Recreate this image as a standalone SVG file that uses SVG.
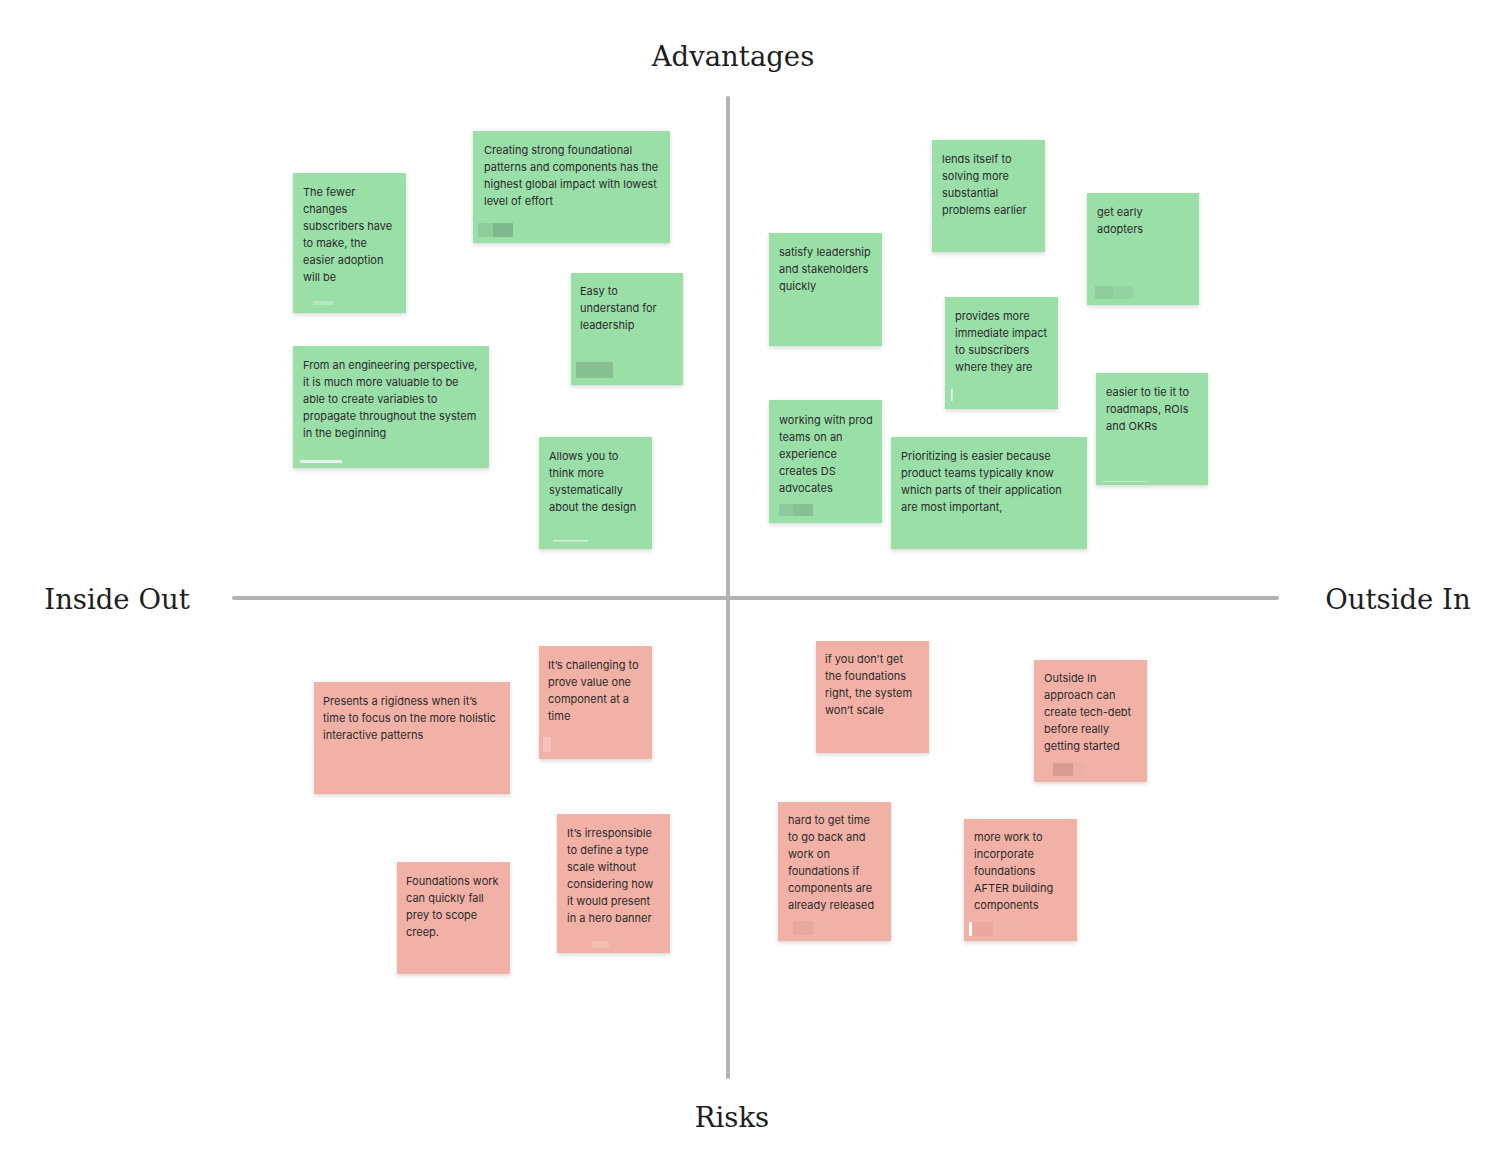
<svg xmlns="http://www.w3.org/2000/svg" width="1511" height="1174" viewBox="0 0 1511 1174">
<style>
.g{fill:#9adfa8}
.r{fill:#f2b1a6}
.t{font-family:Inter,"Noto Sans",sans-serif;font-size:11px;fill:#2b2b2b}
.h{font-family:"DejaVu Serif","Liberation Serif",serif;font-size:27.5px;fill:#1e1e1e}
.ax{stroke:#b3b3b3;stroke-width:4;stroke-linecap:round;fill:none}
</style>
<defs>
<filter id="sh" x="-10%" y="-10%" width="120%" height="130%">
<feDropShadow dx="0" dy="2" stdDeviation="2" flood-color="#000" flood-opacity="0.15"/>
</filter>
</defs>
<rect width="1511" height="1174" fill="#fff"/>
<g id="axes">
<line class="ax" x1="728" y1="98" x2="728" y2="1077"/>
<line class="ax" x1="234" y1="598" x2="1277" y2="598"/>
</g>
<g id="labels">
<text class="h" x="733" y="66" text-anchor="middle">Advantages</text>
<text class="h" x="732" y="1127" text-anchor="middle">Risks</text>
<text class="h" x="117" y="609" text-anchor="middle">Inside Out</text>
<text class="h" x="1398" y="609" text-anchor="middle">Outside In</text>
</g>
<g id="n1"><rect class="g" x="293" y="173" width="113" height="140" filter="url(#sh)"/><rect x="313" y="301" width="20" height="4" fill="#b5e8bf"/>
<text class="t"><tspan x="303" y="196">The fewer</tspan><tspan x="303" y="213">changes</tspan><tspan x="303" y="230">subscribers have</tspan><tspan x="303" y="247">to make, the</tspan><tspan x="303" y="264">easier adoption</tspan><tspan x="303" y="281">will be</tspan></text></g>
<g id="n2"><rect class="g" x="473" y="131" width="197" height="112" filter="url(#sh)"/><rect x="478" y="223" width="15" height="14" fill="#8ccf9a"/><rect x="493" y="223" width="20" height="14" fill="#80b88d"/>
<text class="t"><tspan x="484" y="154">Creating strong foundational</tspan><tspan x="484" y="171">patterns and components has the</tspan><tspan x="484" y="188">highest global impact with lowest</tspan><tspan x="484" y="205">level of effort</tspan></text></g>
<g id="n3"><rect class="g" x="571" y="273" width="112" height="112" filter="url(#sh)"/><rect x="576" y="362" width="37" height="16" fill="#86bf92"/>
<text class="t"><tspan x="580" y="295">Easy to</tspan><tspan x="580" y="312">understand for</tspan><tspan x="580" y="329">leadership</tspan></text></g>
<g id="n4"><rect class="g" x="293" y="346" width="196" height="122" filter="url(#sh)"/><rect x="300" y="460" width="42" height="3" fill="#e6f5e9"/>
<text class="t"><tspan x="303" y="369">From an engineering perspective,</tspan><tspan x="303" y="386">it is much more valuable to be</tspan><tspan x="303" y="403">able to create variables to</tspan><tspan x="303" y="420">propagate throughout the system</tspan><tspan x="303" y="437">in the beginning</tspan></text></g>
<g id="n5"><rect class="g" x="539" y="437" width="113" height="112" filter="url(#sh)"/><rect x="553" y="540" width="35" height="1.5" fill="#d8f2dd"/>
<text class="t"><tspan x="549" y="460">Allows you to</tspan><tspan x="549" y="477">think more</tspan><tspan x="549" y="494">systematically</tspan><tspan x="549" y="511">about the design</tspan></text></g>
<g id="n6"><rect class="g" x="769" y="233" width="113" height="113" filter="url(#sh)"/>
<text class="t"><tspan x="779" y="256">satisfy leadership</tspan><tspan x="779" y="273">and stakeholders</tspan><tspan x="779" y="290">quickly</tspan></text></g>
<g id="n7"><rect class="g" x="932" y="140" width="113" height="112" filter="url(#sh)"/>
<text class="t"><tspan x="942" y="163">lends itself to</tspan><tspan x="942" y="180">solving more</tspan><tspan x="942" y="197">substantial</tspan><tspan x="942" y="214">problems earlier</tspan></text></g>
<g id="n8"><rect class="g" x="1087" y="193" width="112" height="112" filter="url(#sh)"/><rect x="1095" y="286" width="18" height="13" fill="#8fcc9c"/><rect x="1113" y="286" width="20" height="13" fill="#94d4a2"/>
<text class="t"><tspan x="1097" y="216">get early</tspan><tspan x="1097" y="233">adopters</tspan></text></g>
<g id="n9"><rect class="g" x="945" y="297" width="113" height="112" filter="url(#sh)"/><rect x="951" y="389" width="1.5" height="12" fill="#fff"/>
<text class="t"><tspan x="955" y="320">provides more</tspan><tspan x="955" y="337">immediate impact</tspan><tspan x="955" y="354">to subscribers</tspan><tspan x="955" y="371">where they are</tspan></text></g>
<g id="n10"><rect class="g" x="769" y="400" width="113" height="123" filter="url(#sh)"/><rect x="779" y="504" width="14" height="12" fill="#8ecb9b"/><rect x="793" y="504" width="20" height="12" fill="#86c193"/>
<text class="t"><tspan x="779" y="424">working with prod</tspan><tspan x="779" y="441">teams on an</tspan><tspan x="779" y="458">experience</tspan><tspan x="779" y="475">creates DS</tspan><tspan x="779" y="492">advocates</tspan></text></g>
<g id="n11"><rect class="g" x="891" y="437" width="196" height="112" filter="url(#sh)"/>
<text class="t"><tspan x="901" y="460">Prioritizing is easier because</tspan><tspan x="901" y="477">product teams typically know</tspan><tspan x="901" y="494">which parts of their application</tspan><tspan x="901" y="511">are most important,</tspan></text></g>
<g id="n12"><rect class="g" x="1096" y="373" width="112" height="112" filter="url(#sh)"/><rect x="1103" y="481" width="45" height="1" fill="#c2ecca"/>
<text class="t"><tspan x="1106" y="396">easier to tie it to</tspan><tspan x="1106" y="413">roadmaps, ROIs</tspan><tspan x="1106" y="430">and OKRs</tspan></text></g>
<g id="n13"><rect class="r" x="314" y="682" width="196" height="112" filter="url(#sh)"/>
<text class="t"><tspan x="323" y="705">Presents a rigidness when it’s</tspan><tspan x="323" y="722">time to focus on the more holistic</tspan><tspan x="323" y="739">interactive patterns</tspan></text></g>
<g id="n14"><rect class="r" x="539" y="646" width="113" height="113" filter="url(#sh)"/><rect x="543" y="737" width="8" height="15" fill="#f5c2b9"/>
<text class="t"><tspan x="548" y="669">It’s challenging to</tspan><tspan x="548" y="686">prove value one</tspan><tspan x="548" y="703">component at a</tspan><tspan x="548" y="720">time</tspan></text></g>
<g id="n15"><rect class="r" x="397" y="862" width="113" height="112" filter="url(#sh)"/>
<text class="t"><tspan x="406" y="885">Foundations work</tspan><tspan x="406" y="902">can quickly fall</tspan><tspan x="406" y="919">prey to scope</tspan><tspan x="406" y="936">creep.</tspan></text></g>
<g id="n16"><rect class="r" x="557" y="814" width="113" height="139" filter="url(#sh)"/><rect x="592" y="941" width="17" height="7" fill="#f4bdb4"/>
<text class="t"><tspan x="567" y="837">It’s irresponsible</tspan><tspan x="567" y="854">to define a type</tspan><tspan x="567" y="871">scale without</tspan><tspan x="567" y="888">considering how</tspan><tspan x="567" y="905">it would present</tspan><tspan x="567" y="922">in a hero banner</tspan></text></g>
<g id="n17"><rect class="r" x="816" y="641" width="113" height="112" filter="url(#sh)"/>
<text class="t"><tspan x="825" y="663">if you don’t get</tspan><tspan x="825" y="680">the foundations</tspan><tspan x="825" y="697">right, the system</tspan><tspan x="825" y="714">won’t scale</tspan></text></g>
<g id="n18"><rect class="r" x="1034" y="660" width="113" height="122" filter="url(#sh)"/><rect x="1053" y="763" width="20" height="13" fill="#d89c92"/><rect x="1073" y="763" width="12" height="13" fill="#eeaea3"/>
<text class="t"><tspan x="1044" y="682">Outside In</tspan><tspan x="1044" y="699">approach can</tspan><tspan x="1044" y="716">create tech-debt</tspan><tspan x="1044" y="733">before really</tspan><tspan x="1044" y="750">getting started</tspan></text></g>
<g id="n19"><rect class="r" x="778" y="802" width="113" height="139" filter="url(#sh)"/><rect x="793" y="921" width="20" height="14" fill="#e8a89d"/><rect x="813" y="921" width="19" height="14" fill="#efb2a8"/>
<text class="t"><tspan x="788" y="824">hard to get time</tspan><tspan x="788" y="841">to go back and</tspan><tspan x="788" y="858">work on</tspan><tspan x="788" y="875">foundations if</tspan><tspan x="788" y="892">components are</tspan><tspan x="788" y="909">already released</tspan></text></g>
<g id="n20"><rect class="r" x="964" y="819" width="113" height="122" filter="url(#sh)"/><rect x="969" y="922" width="3" height="14" fill="#fff"/><rect x="973" y="922" width="20" height="14" fill="#eca89e"/><rect x="993" y="922" width="20" height="14" fill="#f0b3a9"/>
<text class="t"><tspan x="974" y="841">more work to</tspan><tspan x="974" y="858">incorporate</tspan><tspan x="974" y="875">foundations</tspan><tspan x="974" y="892">AFTER building</tspan><tspan x="974" y="909">components</tspan></text></g>
</svg>
